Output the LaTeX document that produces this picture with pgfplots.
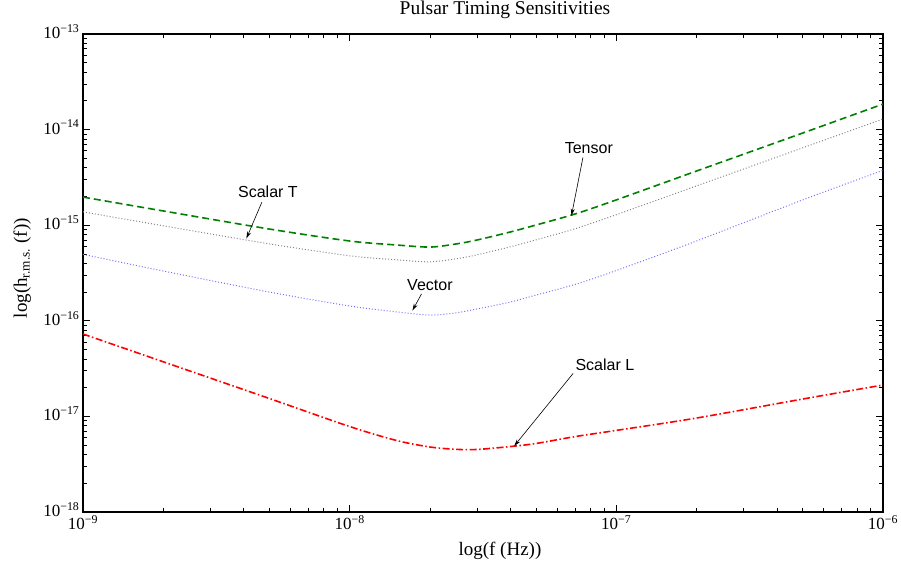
\documentclass[border=0pt]{standalone}
\usepackage{fontspec}
\setmainfont{Liberation Serif}
\newfontfamily\sans{Liberation Sans}
\usepackage{pgfplots}
\pgfplotsset{compat=1.18}
\usepackage{pgfplotstable}
\usetikzlibrary{arrows.meta}

\definecolor{mgreen}{rgb}{0,0.5,0}
\definecolor{mgray}{rgb}{0.52,0.52,0.52}
\definecolor{mblue}{rgb}{0.45,0.45,0.97}

% f  tensor  scalarT  vector  scalarL
\pgfplotstableread{
f       tensor    scalart   vector    scalarl
1e-9    1.97e-15  1.38e-15  4.96e-16  7.28e-17
2e-9    1.41e-15  9.87e-16  3.32e-16  3.73e-17
5e-9    9.12e-16  6.38e-16  2.00e-16  1.54e-17
1e-8    6.84e-16  4.79e-16  1.43e-16  7.84e-18
1.5e-8  6.21e-16  4.35e-16  1.24e-16  5.60e-18
2e-8    5.91e-16  4.14e-16  1.15e-16  4.79e-18
2.5e-8  6.36e-16  4.45e-16  1.21e-16  4.53e-18
3e-8    7.00e-16  4.90e-16  1.33e-16  4.51e-18
4e-8    8.49e-16  5.94e-16  1.57e-16  4.84e-18
5e-8    1.005e-15 7.03e-16  1.86e-16  5.21e-18
7e-8    1.31e-15  9.17e-16  2.40e-16  6.15e-18
1e-7    1.84e-15  1.29e-15  3.36e-16  7.14e-18
2e-7    3.69e-15  2.58e-15  6.84e-16  9.62e-18
5e-7    9.21e-15  6.45e-15  1.84e-15  1.52e-17
1e-6    1.85e-14  1.29e-14  3.75e-15  2.13e-17
}\sens

\begin{document}
\begin{tikzpicture}
\path[use as bounding box] (-83pt,-53pt) rectangle (818pt,512pt);
\begin{axis}[
  scale only axis,
  width=800pt, height=478pt,
  xmode=log, ymode=log,
  xmin=1e-9, xmax=1e-6, ymin=1e-18, ymax=1e-13,
  enlargelimits=false,
  axis line style={line width=1.2pt},
  tick align=inside,
  major tick length=7pt, minor tick length=4pt,
  every tick/.style={black, line width=0.7pt},
  xtick={1e-9,1e-8,1e-7,1e-6},
  xticklabels={10\textsuperscript{−9},10\textsuperscript{−8},10\textsuperscript{−7},10\textsuperscript{−6}},
  ytick={1e-18,1e-17,1e-16,1e-15,1e-14,1e-13},
  yticklabels={10\textsuperscript{−18},10\textsuperscript{−17},10\textsuperscript{−16},10\textsuperscript{−15},10\textsuperscript{−14},10\textsuperscript{−13}},
  ticklabel style={font=\fontsize{17}{20}\selectfont},
  yticklabel style={anchor=base east, yshift=-4.5pt},
  title={Pulsar Timing Sensitivities},
  title style={font=\fontsize{19.5}{23}\selectfont, at={(axis description cs:0.5,1)}, anchor=base, yshift=14pt, xshift=22pt},
  xlabel={log(f (Hz))},
  xlabel style={font=\fontsize{19}{23}\selectfont, at={(axis description cs:0.5,0)}, anchor=base, yshift=-43pt, xshift=17pt},
  ylabel={log(h\textsubscript{r.m.s.} (f))},
  ylabel style={font=\fontsize{19}{23}\selectfont, at={(axis description cs:-0.07,0.51)}, anchor=base},
]
\addplot[mgreen, line width=1.6pt, dash pattern=on 7pt off 4pt, smooth] table[x=f, y=tensor] {\sens};
\addplot[mgray, line width=1pt, dash pattern=on 1pt off 2pt, smooth] table[x=f, y=scalart] {\sens};
\addplot[mblue, line width=1pt, dash pattern=on 1pt off 2pt, smooth] table[x=f, y=vector] {\sens};
\addplot[red, line width=1.6pt, dash pattern=on 7pt off 2.5pt on 1.5pt off 2.5pt, smooth] table[x=f, y=scalarl] {\sens};

\node[font=\sans\fontsize{16}{19}\selectfont] at (axis cs:4.94e-9,2.23e-15) {Scalar T};
\draw[line width=0.6pt, -{Stealth[length=7pt,width=4pt]}] (axis cs:4.69e-9,1.75e-15) -- (axis cs:4.10e-9,7.26e-16);
\node[font=\sans\fontsize{16}{19}\selectfont] at (axis cs:2.0e-8,2.37e-16) {Vector};
\draw[line width=0.6pt, -{Stealth[length=7pt,width=4pt]}] (axis cs:1.86e-8,1.91e-16) -- (axis cs:1.72e-8,1.28e-16);
\node[font=\sans\fontsize{16}{19}\selectfont] at (axis cs:7.89e-8,6.42e-15) {Tensor};
\draw[line width=0.6pt, -{Stealth[length=7pt,width=4pt]}] (axis cs:7.50e-8,5.13e-15) -- (axis cs:6.79e-8,1.26e-15);
\node[font=\sans\fontsize{16}{19}\selectfont] at (axis cs:9.06e-8,3.45e-17) {Scalar L};
\draw[line width=0.6pt, -{Stealth[length=7pt,width=4pt]}] (axis cs:6.89e-8,2.82e-17) -- (axis cs:4.14e-8,4.90e-18);
\end{axis}
\end{tikzpicture}
\end{document}
